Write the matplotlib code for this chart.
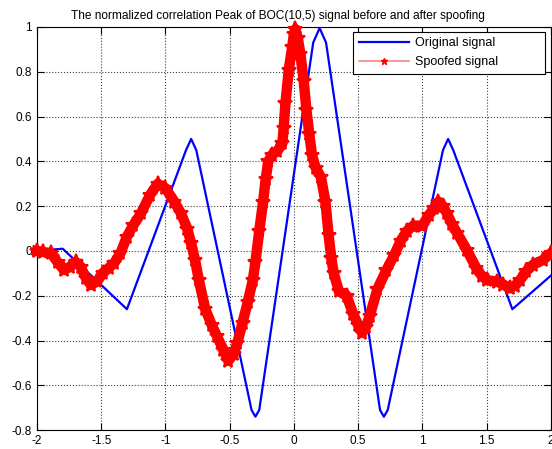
import numpy as np
import matplotlib
matplotlib.use("Agg")
import matplotlib.pyplot as plt
from matplotlib.lines import Line2D
from matplotlib.ticker import FuncFormatter

plt.rcParams['font.family'] = ['Liberation Sans', 'DejaVu Sans']
plt.rcParams['axes.unicode_minus'] = False

# original BOC(10,5) correlation
orig_x = [-2.0, -1.8, -1.3, -0.84, -0.8, -0.76, -0.33, -0.3, -0.27, 0.15, 0.2, 0.25,
          0.67, 0.7, 0.73, 1.16, 1.2, 1.24, 1.7, 2.0]
orig_y = [0.0, 0.01, -0.26, 0.45, 0.50, 0.45, -0.71, -0.74, -0.71, 0.93, 0.995, 0.93,
          -0.71, -0.74, -0.71, 0.45, 0.50, 0.45, -0.26, -0.11]

# spoofed signal
spoof_x = [-2.00, -1.95, -1.89, -1.84, -1.79, -1.74, -1.70, -1.66, -1.62, -1.58,
           -1.53, -1.49, -1.44, -1.40, -1.35, -1.30, -1.25, -1.19, -1.12, -1.06,
           -1.00, -0.93, -0.88, -0.83, -0.80, -0.77, -0.74, -0.69, -0.64, -0.60,
           -0.55, -0.51, -0.47, -0.44, -0.40, -0.36, -0.32, -0.30, -0.27, -0.24,
           -0.22, -0.20, -0.17, -0.13, -0.09, -0.08, -0.066, -0.04, -0.014, 0.00,
           0.012, 0.03, 0.05, 0.076, 0.097, 0.12, 0.14, 0.17, 0.21, 0.245,
           0.27, 0.29, 0.31, 0.35, 0.41, 0.46, 0.50, 0.53, 0.56, 0.59,
           0.65, 0.72, 0.78, 0.83, 0.88, 0.93, 1.00, 1.05, 1.09, 1.125,
           1.16, 1.19, 1.23, 1.27, 1.345, 1.42, 1.46, 1.50, 1.58, 1.63,
           1.68, 1.72, 1.76, 1.81, 1.86, 1.94, 2.00]
spoof_y = [0.00, -0.005, -0.01, -0.05, -0.085, -0.07, -0.048, -0.07, -0.12, -0.152,
           -0.135, -0.10, -0.075, -0.055, -0.01, 0.064, 0.115, 0.168, 0.25, 0.30,
           0.28, 0.22, 0.168, 0.10, 0.034, -0.04, -0.13, -0.26, -0.33, -0.38,
           -0.44, -0.49, -0.46, -0.41, -0.32, -0.23, -0.13, -0.05, 0.09, 0.22,
           0.32, 0.40, 0.43, 0.445, 0.48, 0.55, 0.66, 0.81, 0.91, 0.97,
           0.99, 0.95, 0.88, 0.76, 0.63, 0.52, 0.43, 0.37, 0.33, 0.22,
           0.07, -0.03, -0.10, -0.18, -0.20, -0.28, -0.33, -0.365, -0.34, -0.29,
           -0.17, -0.085, -0.02, 0.045, 0.09, 0.113, 0.113, 0.16, 0.19, 0.22,
           0.20, 0.168, 0.12, 0.08, 0.005, -0.077, -0.11, -0.13, -0.137, -0.15,
           -0.167, -0.155, -0.13, -0.09, -0.062, -0.04, -0.01]

xticks = [-2, -1.5, -1, -0.5, 0, 0.5, 1, 1.5, 2]
yticks = [-0.8, -0.6, -0.4, -0.2, 0, 0.2, 0.4, 0.6, 0.8, 1]

fig = plt.figure(figsize=(5.52, 4.49), dpi=100)
ax = fig.add_axes([0.067, 0.042, 0.931, 0.898])

ax.plot(orig_x, orig_y, color='#0000ff', lw=1.6, zorder=3)
ax.plot(spoof_x, spoof_y, color='#ff0000', lw=7.5, marker='*', markersize=11,
        markeredgewidth=1.5, clip_on=False, zorder=4)

ax.set_xlim(-2, 2)
ax.set_ylim(-0.8, 1)
ax.set_xticks(xticks)
ax.set_yticks(yticks)
fmt = FuncFormatter(lambda v, p: '%g' % round(v, 2))
ax.xaxis.set_major_formatter(fmt)
ax.yaxis.set_major_formatter(fmt)
ax.tick_params(direction='in', top=True, right=True, length=5, labelsize=8.5)
ax.grid(True, ls=':', color='#404040', lw=0.8)
for s in ax.spines.values():
    s.set_linewidth(0.8)

ax.set_title("The normalized correlation Peak of BOC(10,5) signal before and after spoofing",
             fontsize=8.6, pad=6, x=0.468)

handles = [Line2D([], [], color='#0000ff', lw=1.6),
           Line2D([], [], color='#ff8080', lw=1.2, marker='*', markersize=5,
                  markerfacecolor='#ff0000', markeredgecolor='#ff0000')]
leg = ax.legend(handles, ['Original signal', 'Spoofed signal'], loc='upper left',
                bbox_to_anchor=(0.615, 0.886, 0.373, 0.102), mode='expand',
                borderaxespad=0, fontsize=9,
                fancybox=False, framealpha=1, edgecolor='k', handlelength=4.0,
                handletextpad=0.5, labelspacing=0.55, borderpad=0.45)
leg.get_frame().set_linewidth(0.8)

fig.savefig('out.png', dpi=100)
